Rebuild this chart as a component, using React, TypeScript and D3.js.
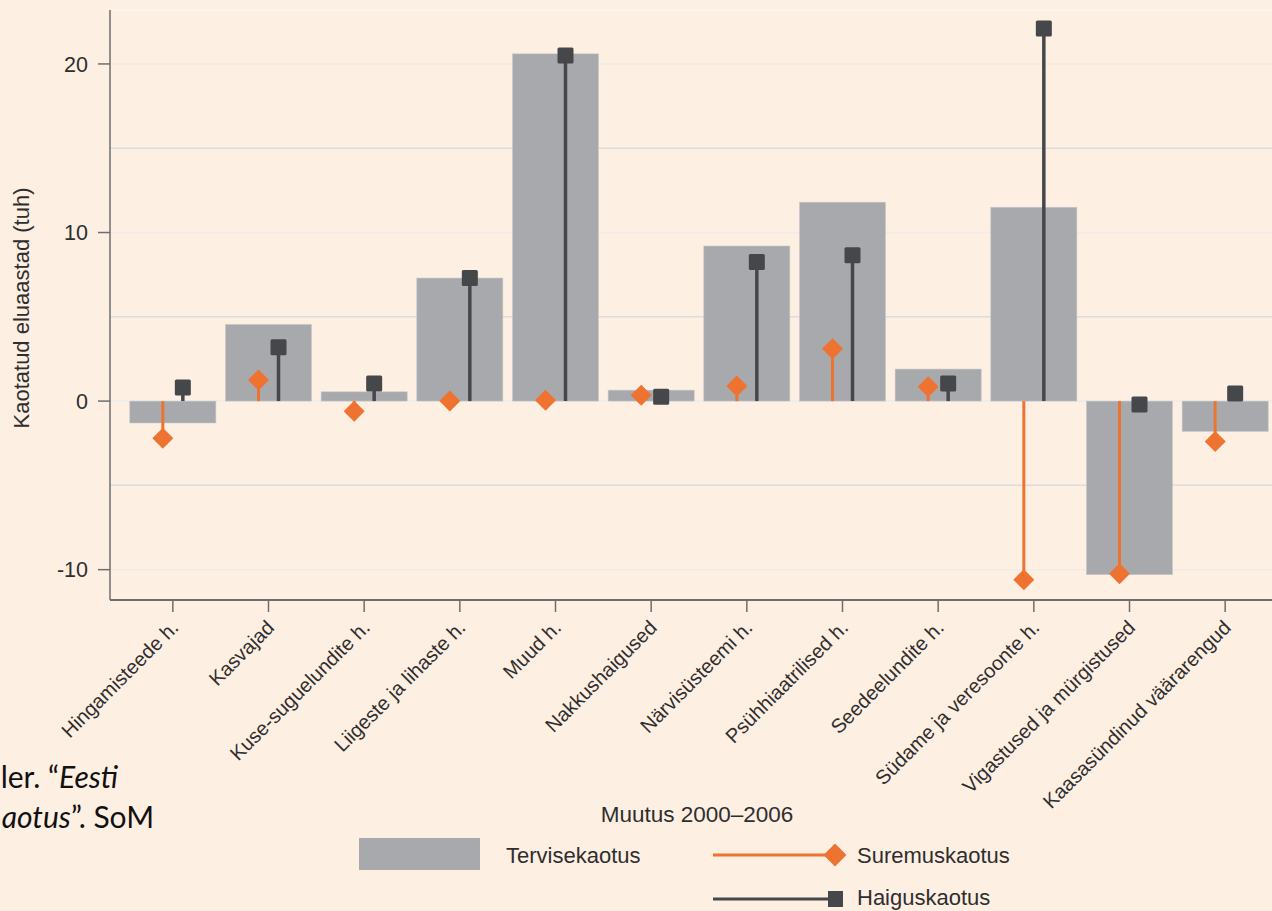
import * as d3 from 'd3';

const categories = [
  'Hingamisteede h.',
  'Kasvajad',
  'Kuse-suguelundite h.',
  'Liigeste ja lihaste h.',
  'Muud h.',
  'Nakkushaigused',
  'Närvisüsteemi h.',
  'Psühhiaatrilised h.',
  'Seedeelundite h.',
  'Südame ja veresoonte h.',
  'Vigastused ja mürgistused',
  'Kaasasündinud väärarengud',
];

// thousand life-years, change 2000-2006
const tervisekaotus = [-1.3, 4.55, 0.55, 7.3, 20.6, 0.65, 9.2, 11.8, 1.9, 11.5, -10.3, -1.8];
const suremuskaotus = [-2.2, 1.25, -0.6, 0.0, 0.05, 0.35, 0.9, 3.1, 0.85, -10.6, -10.25, -2.4];
const haiguskaotus = [0.8, 3.2, 1.05, 7.3, 20.5, 0.25, 8.25, 8.65, 1.05, 22.1, -0.2, 0.45];

const yTicks = [-10, 0, 10, 20];
const gridValues = [-10, -5, 0, 5, 10, 15, 20];

const BG = '#FEEFE3';
const BAR = '#A8A9AC';
const ORANGE = '#EE7331';
const DARK = '#46474A';
const AXIS = '#6E6E6E';
const TEXT = '#2E2E2E';
const FONT = 'Liberation Sans, Arial, sans-serif';

const diamond = (cx: number, cy: number, r = 10.5) =>
  `M${cx},${cy - r}L${cx + r},${cy}L${cx},${cy + r}L${cx - r},${cy}Z`;

export default function App() {
  const W = 1272;
  const H = 911;
  const left = 110;
  const bottom = 600;

  const x = d3.scaleBand<string>()
    .domain(categories)
    .range([125, 1273])
    .paddingInner(0.1)
    .paddingOuter(0.05);

  const y = d3.scaleLinear().domain([-11.8, 23.2]).range([bottom, 10]);

  const cx = (c: string) => (x(c) as number) + x.bandwidth() / 2;

  return (
    <svg
      width={W}
      height={H}
      style={{ position: 'absolute', left: 0, top: 0, display: 'block' }}
      fontFamily={FONT}
    >
      <rect width={W} height={H} fill={BG} />

      {/* top border + gridlines */}
      <line x1={left} x2={W} y1={y(23.2)} y2={y(23.2)} stroke="#F8F6F4" strokeWidth={1.5} />
      {gridValues.map(v => (
        <line key={v} x1={left} x2={W} y1={y(v)} y2={y(v)}
          stroke={v % 10 === 0 ? '#EEEBE8' : '#DCDCDF'} strokeWidth={1.5} />
      ))}

      {/* bars */}
      {categories.map((c, i) => {
        const v = tervisekaotus[i];
        return (
          <rect key={c} x={x(c)} width={x.bandwidth()}
            y={y(Math.max(0, v))} height={Math.abs(y(v) - y(0))}
            fill={BAR} stroke="#C9CACC" strokeWidth={0.6} />
        );
      })}

      {/* suremuskaotus stems */}
      {categories.map((c, i) => (
        <line key={c} x1={cx(c) - 10} x2={cx(c) - 10} y1={y(0)} y2={y(suremuskaotus[i])}
          stroke={ORANGE} strokeWidth={3} />
      ))}
      {/* haiguskaotus stems */}
      {categories.map((c, i) => (
        <line key={c} x1={cx(c) + 10} x2={cx(c) + 10} y1={y(0)} y2={y(haiguskaotus[i])}
          stroke={DARK} strokeWidth={3.5} />
      ))}
      {categories.map((c, i) => (
        <path key={c} d={diamond(cx(c) - 10, y(suremuskaotus[i]))} fill={ORANGE} />
      ))}
      {categories.map((c, i) => (
        <rect key={c} x={cx(c) + 10 - 8} y={y(haiguskaotus[i]) - 8} width={16} height={16}
          rx={1.5} fill={DARK} />
      ))}

      {/* y axis */}
      <line x1={left} x2={left} y1={10} y2={bottom} stroke={AXIS} strokeWidth={1.5} />
      {yTicks.map(t => (
        <g key={t}>
          <line x1={left - 12} x2={left} y1={y(t)} y2={y(t)} stroke={AXIS} strokeWidth={1.5} />
          <text x={left - 22} y={y(t)} dy="0.36em" textAnchor="end" fontSize={21.5} fill={TEXT}>
            {t}
          </text>
        </g>
      ))}
      <text transform={`translate(29,${308}) rotate(-90)`} textAnchor="middle"
        fontSize={22} fill={TEXT}>
        Kaotatud eluaastad (tuh)
      </text>

      {/* x axis */}
      <line x1={left} x2={W} y1={bottom} y2={bottom} stroke={AXIS} strokeWidth={2} />
      {categories.map(c => (
        <g key={c}>
          <line x1={cx(c)} x2={cx(c)} y1={bottom} y2={bottom + 12} stroke={AXIS} strokeWidth={1.5} />
          <text transform={`translate(${cx(c) - 3},${bottom + 19}) rotate(-45)`}
            textAnchor="end" dy="0.7em" fontSize={20} fill={TEXT}>
            {c}
          </text>
        </g>
      ))}

      {/* source note cut off at the left edge */}
      <g fontFamily="Lato, 'Open Sans', sans-serif" fontSize={30} fill="#111">
        <text x={118} y={788} textAnchor="end">
          <tspan>ler. “</tspan><tspan fontStyle="italic">Eesti</tspan>
        </text>
        <text x={154} y={828} textAnchor="end">
          <tspan fontStyle="italic">aotus</tspan><tspan>”. SoM</tspan>
        </text>
      </g>

      {/* legend */}
      <text x={697} y={822} textAnchor="middle" fontSize={22.5} fill={TEXT}>Muutus 2000–2006</text>
      <rect x={359} y={838} width={121} height={32} fill={BAR} />
      <text x={506} y={863} fontSize={22} fill={TEXT}>Tervisekaotus</text>
      <line x1={713} x2={835} y1={855} y2={855} stroke={ORANGE} strokeWidth={3} />
      <path d={diamond(835, 855, 11.5)} fill={ORANGE} />
      <text x={857} y={863} fontSize={22} fill={TEXT}>Suremuskaotus</text>
      <line x1={713} x2={835} y1={899} y2={899} stroke={DARK} strokeWidth={3} />
      <rect x={828} y={891} width={15} height={16} fill={DARK} />
      <text x={857} y={905} fontSize={22} fill={TEXT}>Haiguskaotus</text>
    </svg>
  );
}
